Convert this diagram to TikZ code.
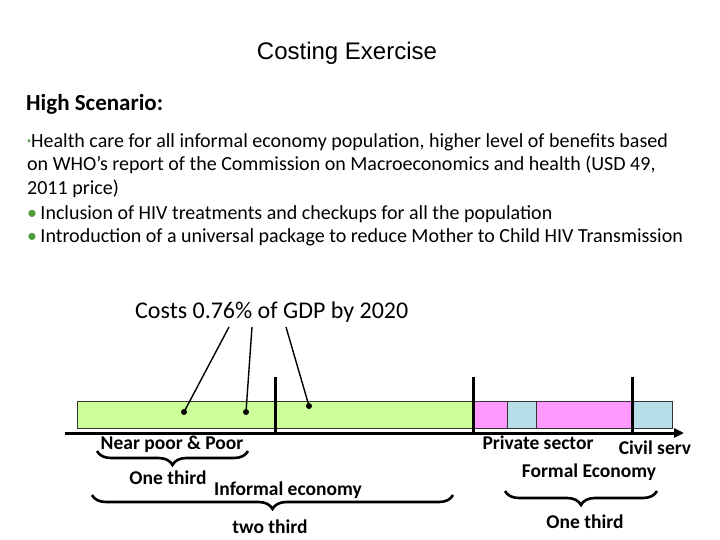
\documentclass[tikz,border=0pt]{standalone}
\usepackage{fontspec}
\setmainfont{Carlito}
\newfontfamily\titlefont{Liberation Sans}
\usetikzlibrary{arrows.meta,decorations.pathreplacing,positioning}
\definecolor{BarGreen}{HTML}{CCFF99}
\definecolor{BarPink}{HTML}{FF99FF}
\definecolor{BarBlue}{HTML}{B7DEE8}
\definecolor{BulletGreen}{HTML}{4E9A3C}
\newcommand{\grbullet}{\textcolor{BulletGreen}{\textbullet}}

\begin{document}
\begin{tikzpicture}[
    x=1pt, y=-1pt,
    seg/.style={draw=black!80, line width=0.7pt},
    divider/.style={line width=3pt},
    axisline/.style={line width=3pt, -{Triangle[length=10pt,width=9pt]}},
    pointer/.style={line width=1.4pt},
    dot/.style={circle, fill=black, inner sep=0pt, minimum size=6pt},
    brc/.style={line width=2.6pt, decorate, decoration={brace, mirror, amplitude=14pt}},
    lbl/.style={font=\fontsize{19.5}{22}\selectfont\bfseries, inner sep=0pt}
  ]
  \useasboundingbox (0,0) rectangle (720,540);

  % heading and scenario text
  \node[font=\titlefont\fontsize{24}{28}\selectfont] (title) at (347,53) {Costing Exercise};
  \node[anchor=base west, inner sep=0pt, font=\fontsize{23}{26}\selectfont\bfseries] (scen) at (26,111) {High Scenario:};
  \node[anchor=base west, inner sep=0pt, align=left, font=\fontsize{20}{24}\selectfont] (items) at (27,243)
    {\textcolor{BulletGreen}{\raisebox{4pt}{\footnotesize\textbullet}}Health care for all informal economy population, higher level of benefits based\\
     on WHO’s report of the Commission on Macroeconomics and health (USD 49,\\
     2011 price)\\
     \grbullet\,Inclusion of HIV treatments and checkups for all the population\\
     \grbullet\,Introduction of a universal package to reduce Mother to Child HIV Transmission};

  \node[anchor=west, inner sep=0pt, font=\fontsize{24}{28}\selectfont] (costs) at (135,312) {Costs 0.76\% of GDP by 2020};

  % population bar
  \draw[seg, fill=BarGreen] (77,401) rectangle (473,428);
  \draw[seg, fill=BarPink] (473,401) rectangle (507,428);
  \draw[seg, fill=BarBlue] (507,401) rectangle (536,428);
  \draw[seg, fill=BarPink] (536,401) rectangle (632,428);
  \draw[seg, fill=BarBlue] (632,401) rectangle (672,428);

  \coordinate (axstart) at (65,433);
  \coordinate (axend) at (684,433);
  \draw[axisline] (axstart) -- (axend);
  \foreach \xx in {275,473,632}
    \draw[divider] (\xx,377) -- (\xx,434.5);

  % pointers from the cost label
  \node[dot] (d1) at (184,412) {};
  \node[dot] (d2) at (246,412) {};
  \node[dot] (d3) at (309,406) {};
  \coordinate (p1) at (229,327);
  \coordinate (p2) at (252,327);
  \coordinate (p3) at (286,327);
  \draw[pointer] (p1) -- (d1.center);
  \draw[pointer] (p2) -- (d2.center);
  \draw[pointer] (p3) -- (d3.center);

  % groups below the axis
  \node[lbl] (poor) at (172,444) {Near poor \& Poor};
  \node[lbl] (priv) at (538,443) {Private sector};
  \node[lbl] (civil) at (655,448) {Civil serv};
  \coordinate (b1l) at (97,451);
  \coordinate (b1r) at (248,451);
  \draw[brc] (b1l) -- (b1r);
  \node[lbl] (third1) at (168,478) {One third};
  \node[lbl] (informal) at (288,490) {Informal economy};
  \coordinate (b2l) at (92,495);
  \coordinate (b2r) at (453,495);
  \draw[brc] (b2l) -- (b2r);
  \node[lbl] (two) at (270,527) {two third};
  \node[lbl] (formal) at (589,472) {Formal Economy};
  \coordinate (b3l) at (505,491);
  \coordinate (b3r) at (657,491);
  \draw[brc] (b3l) -- (b3r);
  \node[lbl] (third2) at (585,522) {One third};
\end{tikzpicture}
\end{document}
